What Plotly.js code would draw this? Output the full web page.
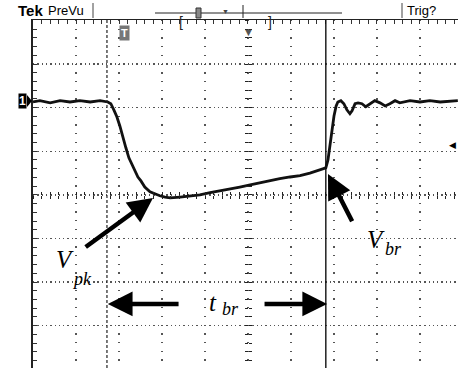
<!DOCTYPE html>
<html><head><meta charset="utf-8">
<script src="https://cdn.plot.ly/plotly-3.0.1.min.js"></script>
<style>html,body{margin:0;padding:0;background:#fff;overflow:hidden}#c{width:458px;height:368px}</style>
</head><body><div id="c"></div>
<script>
// time in divisions (0 = screen centre), voltage in divisions
const timeDiv = [-5.00,-4.84,-4.60,-4.37,-4.14,-3.91,-3.67,-3.44,-3.26,-3.19,-3.12,-3.05,-2.98,-2.91,-2.84,-2.77,-2.70,-2.63,-2.56,-2.49,-2.40,-2.28,-2.16,-2.05,-1.93,-1.81,-1.58,-1.35,-1.12,-0.88,-0.65,-0.42,-0.19,0.05,0.28,0.51,0.74,0.98,1.21,1.44,1.67,1.81,1.86,1.91,1.95,2.00,2.05,2.09,2.16,2.23,2.30,2.37,2.42,2.49,2.56,2.65,2.74,2.84,2.95,3.07,3.19,3.30,3.42,3.53,3.65,3.77,4.00,4.23,4.47,4.88];
const voltDiv = [2.13,2.16,2.11,2.16,2.13,2.16,2.13,2.16,2.13,2.09,1.95,1.79,1.58,1.31,1.08,0.85,0.69,0.53,0.41,0.32,0.18,0.07,0.02,-0.02,-0.05,-0.07,-0.05,-0.02,0.00,0.05,0.09,0.14,0.18,0.23,0.28,0.32,0.37,0.41,0.44,0.50,0.57,0.62,0.80,1.15,1.49,1.81,2.04,2.13,2.16,2.09,1.95,1.86,1.93,2.09,2.11,2.09,2.02,2.09,2.16,2.11,2.04,2.09,2.16,2.11,2.13,2.16,2.13,2.16,2.13,2.16];
const cursorA = -3.28, cursorB = 1.81;

const XR = [-5, 4.884], YR = [-3.97, 4.01];
const serif = 'Liberation Serif', sans = 'Liberation Sans';

const traces = [
  {x: timeDiv, y: voltDiv, type: 'scatter', mode: 'lines', line: {color: '#111', width: 2.8}, hoverinfo: 'skip'},
  {x: [], y: [], xaxis: 'x2', yaxis: 'y', type: 'scatter'},
  {x: [], y: [], xaxis: 'x3', yaxis: 'y', type: 'scatter'},
  {x: [], y: [], xaxis: 'x', yaxis: 'y2', type: 'scatter'},
  {x: [], y: [], xaxis: 'x', yaxis: 'y3', type: 'scatter'}
];

const centerTickAxX = (dir) => ({overlaying: 'x', anchor: 'free', position: 3.97/7.98, range: XR, showgrid: false, zeroline: false,
  showticklabels: false, ticks: dir, ticklen: 3, tickwidth: 1, tickcolor: '#222', dtick: 0.2, tick0: 0, showline: false});
const centerTickAxY = (dir) => ({overlaying: 'y', anchor: 'free', position: 5/9.884, range: YR, showgrid: false, zeroline: false,
  showticklabels: false, ticks: dir, ticklen: 3, tickwidth: 1, tickcolor: '#222', dtick: 0.2, tick0: 0, showline: false});

function arrow(hx, hy, tx, ty) {
  return {x: hx, y: hy, ax: tx, ay: ty, xref: 'x', yref: 'y', axref: 'x', ayref: 'y', showarrow: true,
    arrowhead: 2, arrowsize: 1.1, arrowwidth: 4.5, arrowcolor: '#000', standoff: 0, text: ''};
}
function label(txt, x, y, size) {
  return {x: x, y: y, xref: 'x', yref: 'y', text: '<i>' + txt + '</i>', showarrow: false,
    font: {family: serif, size: size, color: '#000'}};
}
const py = p => (368 - p) / 348;   // header pixel row -> paper y
const px = p => (p - 33) / 425;    // pixel column -> paper x

const layout = {
  width: 458, height: 368, margin: {l: 33, r: 0, t: 20, b: 0},
  paper_bgcolor: '#fff', plot_bgcolor: '#fff', showlegend: false,
  xaxis: {range: XR, dtick: 1, tick0: 0, showgrid: true, gridcolor: '#555', gridwidth: 1.3, griddash: '1.3px,7.4px',
    zeroline: false, showticklabels: false, side: 'top', showline: true, linecolor: '#222', linewidth: 1.5,
    ticks: 'inside', ticklen: 4, tickcolor: '#333', minor: {dtick: 0.2, ticks: 'inside', ticklen: 4, tickcolor: '#333', showgrid: false}},
  yaxis: {range: YR, dtick: 1, tick0: 0, showgrid: true, gridcolor: '#555', gridwidth: 1.3, griddash: '1.3px,3px',
    zeroline: false, showticklabels: false, showline: true, linecolor: '#222', linewidth: 2.2,
    ticks: 'inside', ticklen: 4, tickcolor: '#333', minor: {dtick: 0.2, ticks: 'inside', ticklen: 4, tickcolor: '#333', showgrid: false}},
  xaxis2: centerTickAxX('inside'), xaxis3: centerTickAxX('outside'),
  yaxis2: centerTickAxY('inside'), yaxis3: centerTickAxY('outside'),
  shapes: [
    {type: 'line', xref: 'x', yref: 'paper', x0: cursorA, x1: cursorA, y0: 0, y1: 1, line: {color: '#222', width: 1.2, dash: '3px,2px'}},
    {type: 'line', xref: 'x', yref: 'paper', x0: cursorB, x1: cursorB, y0: 0, y1: 1, line: {color: '#111', width: 1.4}},
    {type: 'line', xref: 'paper', yref: 'paper', x0: px(155), x1: px(342), y0: py(13), y1: py(13), line: {color: '#222', width: 1}},
    {type: 'line', xref: 'paper', yref: 'paper', x0: px(93), x1: px(93), y0: py(3), y1: py(18), line: {color: '#444', width: 1}},
    {type: 'line', xref: 'paper', yref: 'paper', x0: px(402), x1: px(402), y0: py(3), y1: py(18), line: {color: '#444', width: 1}},
    {type: 'line', xref: 'paper', yref: 'paper', x0: px(243), x1: px(243), y0: py(5), y1: py(18), line: {color: '#222', width: 1}},
    {type: 'rect', xref: 'paper', yref: 'paper', x0: px(196), x1: px(201), y0: py(18), y1: py(8), fillcolor: '#888', line: {color: '#333', width: 1}},
    {type: 'path', xref: 'paper', yref: 'paper', path: `M ${px(27)} ${py(95)} L ${px(32)} ${py(101)} L ${px(27)} ${py(107)} Z`, fillcolor: '#000', line: {width: 0}}
  ],
  annotations: [
    arrow(-2.21, -0.07, -3.81, -1.22),
    arrow(1.86, 0.48, 2.44, -0.64),
    arrow(-3.26, -2.50, -1.58, -2.50),
    arrow(1.84, -2.50, 0.35, -2.50),
    label('V', -4.26, -1.49, 25), label('pk', -3.86, -1.92, 18),
    label('t', -0.82, -2.46, 25), label('br', -0.40, -2.62, 18),
    label('V', 2.98, -1.03, 25), label('br', 3.38, -1.23, 18),
    {xref: 'paper', yref: 'paper', x: px(16), y: py(11), xanchor: 'left', yanchor: 'middle', showarrow: false,
      text: '<b>Tek</b>', font: {family: sans, size: 15, color: '#000'}},
    {xref: 'paper', yref: 'paper', x: px(46), y: py(11), xanchor: 'left', yanchor: 'middle', showarrow: false,
      text: 'PreVu', font: {family: sans, size: 13, color: '#000'}},
    {xref: 'paper', yref: 'paper', x: px(405), y: py(11), xanchor: 'left', yanchor: 'middle', showarrow: false,
      text: 'Trig?', font: {family: sans, size: 13, color: '#000'}},
    {xref: 'paper', yref: 'paper', x: px(181), y: py(12), showarrow: false, text: '[', font: {family: sans, size: 14, color: '#222'}},
    {xref: 'paper', yref: 'paper', x: px(270), y: py(12), showarrow: false, text: ']', font: {family: sans, size: 14, color: '#222'}},
    {xref: 'paper', yref: 'paper', x: px(225), y: py(6), showarrow: false, text: '▼', font: {family: sans, size: 7, color: '#444'}},
    {xref: 'paper', yref: 'paper', x: px(248), y: py(24), showarrow: false, text: '▼', font: {family: sans, size: 11, color: '#555'}},
    {xref: 'x', yref: 'y', x: -2.88, y: 3.72, showarrow: false, text: '<b>T</b>', bgcolor: '#777', borderpad: 1,
      font: {family: sans, size: 11, color: '#fff'}},
    {xref: 'paper', yref: 'y', x: px(27), y: 2.15, xanchor: 'right', showarrow: false, text: '<b>1</b>', bgcolor: '#000', borderpad: 0,
      font: {family: sans, size: 12, color: '#fff'}},
    {xref: 'paper', yref: 'y', x: 1, y: 1.15, xanchor: 'right', showarrow: false, text: '◀', font: {family: sans, size: 9, color: '#000'}}
  ]
};
Plotly.newPlot('c', traces, layout, {staticPlot: true, displayModeBar: false});
</script></body></html>
